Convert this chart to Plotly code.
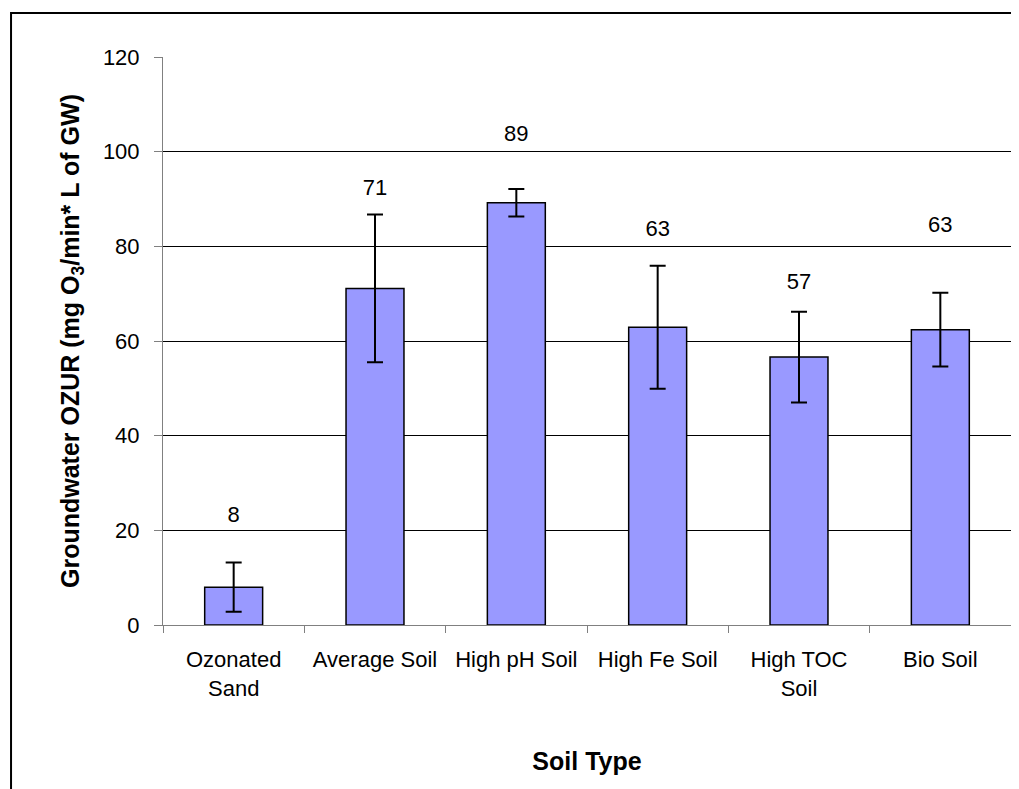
import plotly.graph_objects as go

categories = ["Ozonated<br>Sand", "Average Soil", "High pH Soil", "High Fe Soil", "High TOC<br>Soil", "Bio Soil"]
ozur_values = [8.0, 71.1, 89.2, 62.9, 56.6, 62.4]
ozur_errors = [5.2, 15.6, 2.9, 13.0, 9.6, 7.8]
label_texts = ["8", "71", "89", "63", "57", "63"]
label_heights = [22.9, 92.1, 103.4, 83.3, 72.2, 84.2]
y_ticks = [0, 20, 40, 60, 80, 100, 120]

FONT = "Liberation Sans, Arial, sans-serif"

fig = go.Figure()
fig.add_trace(go.Bar(
    x=categories,
    y=ozur_values,
    marker=dict(color="#9999FF", line=dict(color="#000000", width=1.5)),
    error_y=dict(type="data", array=ozur_errors, visible=True,
                 color="#000000", thickness=2, width=8),
    showlegend=False,
    hoverinfo="x+y",
))

fig.add_trace(go.Scatter(
    x=categories,
    y=label_heights,
    mode="text",
    text=label_texts,
    textfont=dict(family=FONT, size=22, color="#000000"),
    showlegend=False,
    hoverinfo="skip",
))

# outer chart border (extends beyond right/bottom of the visible page)
fig.add_shape(type="rect", xref="paper", yref="paper",
              x0=-0.1792, x1=1.05, y0=-0.4, y1=1.0775,
              line=dict(color="#000000", width=2), fillcolor="rgba(0,0,0,0)",
              layer="below")

fig.update_layout(
    width=1011, height=781,
    margin=dict(l=155, r=8, t=49, b=164),
    paper_bgcolor="#FFFFFF",
    plot_bgcolor="#FFFFFF",
    bargap=0.59,
    font=dict(family=FONT, size=22, color="#000000"),
    xaxis=dict(
        type="category",
        showgrid=False,
        showline=True, linecolor="#808080", linewidth=1,
        ticks="outside", ticklen=7, tickcolor="#808080", tickwidth=1,
        tickson="boundaries",
        ticklabelstandoff=15,
        tickfont=dict(family=FONT, size=22, color="#000000"),
        title=dict(text="<b>Soil Type</b>", standoff=52,
                   font=dict(family=FONT, size=25, color="#000000")),
        range=[-0.5, 5.5],
    ),
    yaxis=dict(
        range=[0, 120],
        tickvals=y_ticks,
        showgrid=True, gridcolor="#000000", gridwidth=1,
        zeroline=False,
        showline=True, linecolor="#808080", linewidth=1,
        ticks="outside", ticklen=8, tickcolor="#808080", tickwidth=1,
        ticklabelstandoff=10,
        tickfont=dict(family=FONT, size=22, color="#000000"),
        title=dict(text="<b>Groundwater OZUR (mg O<sub>3</sub>/min* L of GW)</b>", standoff=16,
                   font=dict(family=FONT, size=25, color="#000000")),
    ),
)

fig.write_html("out.html")
